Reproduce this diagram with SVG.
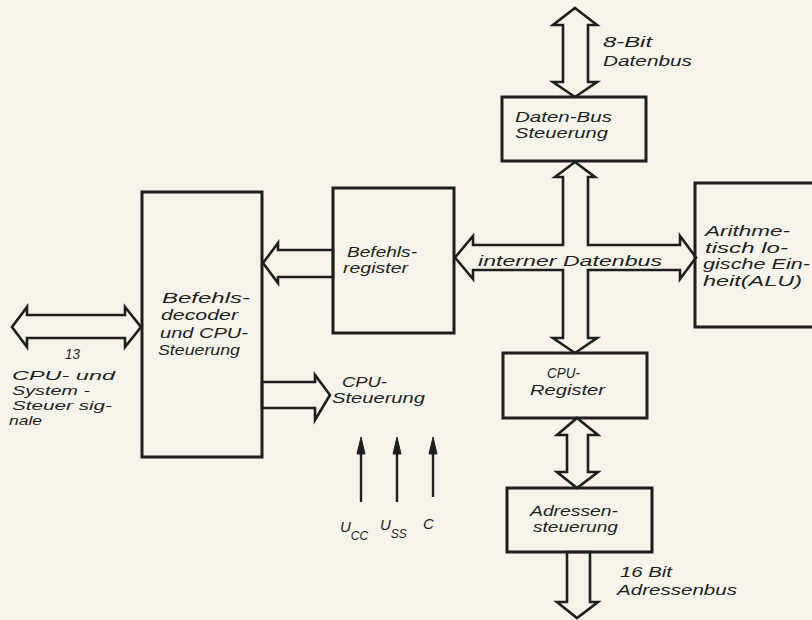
<svg xmlns="http://www.w3.org/2000/svg" width="812" height="620" viewBox="0 0 812 620">
<style>
.bg{fill:#f6f4ea}
.box{fill:none;stroke:#1e1e1e;stroke-width:3}
.bus{fill:#f6f4ea;stroke:#1e1e1e;stroke-width:2.6;stroke-linejoin:miter}
.sig{stroke:#1e1e1e;stroke-width:2.4;fill:none}
.head{fill:#1e1e1e;stroke:#1e1e1e;stroke-width:1}
text{font-family:"Liberation Sans","DejaVu Sans",sans-serif;font-style:italic;font-size:15px;fill:#1e1e1e}
.sm{font-size:13px}
.sub{font-size:12px}
</style>
<rect class="bg" x="0" y="0" width="812" height="620"/>

<g id="connectors">
<path id="bus-8bit" class="bus" d="M575,8 L597,25 L588,25 L588,82 L597,82 L575,97 L553,82 L563,82 L563,25 L553,25 Z"/>
<path id="bus-intern" class="bus" d="M575,162 L595,177 L588,177 L588,245 L680,245 L680,236 L696,257.5 L680,279 L680,270 L588,270 L588,338 L597,338 L575,353 L553,338 L563,338 L563,270 L473,270 L473,279 L455,257.5 L473,236 L473,245 L563,245 L563,177 L555,177 Z"/>
<path id="bus-befehl" class="bus" d="M333,250 L278,250 L278,243 L263,263 L278,283 L278,277 L333,277 Z"/>
<path id="bus-cpusteuer" class="bus" d="M262,382 L315,382 L315,375 L330,395 L315,420 L315,408 L262,408 Z"/>
<path id="bus-13" class="bus" d="M12,327 L27,307 L27,315 L125,315 L125,307 L141,327 L125,347 L125,338 L27,338 L27,347 Z"/>
<path id="bus-reg-adr" class="bus" d="M577,418 L598,435 L588,435 L588,472 L598,472 L577,488 L557,472 L567,472 L567,435 L557,435 Z"/>
<path id="bus-16bit" class="bus" d="M567,552 L590,552 L590,602 L598,602 L577,618 L557,602 L567,602 Z"/>
<line class="sig" x1="361" y1="502" x2="361" y2="450"/>
<polygon class="head" points="361,437 365,454 357,454"/>
<line class="sig" x1="397" y1="502" x2="397" y2="450"/>
<polygon class="head" points="397,437 401,454 393,454"/>
<line class="sig" x1="433" y1="497" x2="433" y2="450"/>
<polygon class="head" points="433,437 437,454 429,454"/>
</g>

<g id="daten-bus-steuerung">
<rect class="box" x="502" y="97" width="144" height="64"/>
<text x="515" y="122" textLength="97" lengthAdjust="spacingAndGlyphs">Daten-Bus</text>
<text x="515" y="138" textLength="93" lengthAdjust="spacingAndGlyphs">Steuerung</text>
</g>

<g id="befehlsregister">
<rect class="box" x="333" y="188" width="121" height="145"/>
<text x="347" y="257" textLength="70" lengthAdjust="spacingAndGlyphs">Befehls-</text>
<text x="343" y="273" textLength="65" lengthAdjust="spacingAndGlyphs">register</text>
</g>

<g id="befehlsdecoder">
<rect class="box" x="142" y="192" width="120" height="265"/>
<text x="162" y="303" textLength="88" lengthAdjust="spacingAndGlyphs">Befehls-</text>
<text x="161" y="320" textLength="77" lengthAdjust="spacingAndGlyphs">decoder</text>
<text x="160" y="338" textLength="88" lengthAdjust="spacingAndGlyphs">und CPU-</text>
<text x="158" y="355" textLength="82" lengthAdjust="spacingAndGlyphs">Steuerung</text>
</g>

<g id="alu">
<rect class="box" x="695" y="183" width="140" height="144"/>
<text x="705" y="236" textLength="85" lengthAdjust="spacingAndGlyphs">Arithme-</text>
<text x="705" y="253" textLength="83" lengthAdjust="spacingAndGlyphs">tisch lo-</text>
<text x="703" y="269" textLength="107" lengthAdjust="spacingAndGlyphs">gische Ein-</text>
<text x="703" y="286" textLength="99" lengthAdjust="spacingAndGlyphs">heit(ALU)</text>
</g>

<g id="cpu-register">
<rect class="box" x="503" y="353" width="144" height="65"/>
<text x="547" y="378" textLength="33" lengthAdjust="spacingAndGlyphs">CPU-</text>
<text x="530" y="395" textLength="75" lengthAdjust="spacingAndGlyphs">Register</text>
</g>

<g id="adressensteuerung">
<rect class="box" x="507" y="488" width="145" height="64"/>
<text x="530" y="516" textLength="88" lengthAdjust="spacingAndGlyphs">Adressen-</text>
<text x="533" y="532" textLength="85" lengthAdjust="spacingAndGlyphs">steuerung</text>
</g>

<g id="labels">
<text x="603" y="47" textLength="49" lengthAdjust="spacingAndGlyphs">8-Bit</text>
<text x="603" y="66" textLength="89" lengthAdjust="spacingAndGlyphs">Datenbus</text>
<text x="478" y="266" textLength="184" lengthAdjust="spacingAndGlyphs">interner Datenbus</text>
<text x="342" y="387" textLength="45" lengthAdjust="spacingAndGlyphs">CPU-</text>
<text x="332" y="403" textLength="93" lengthAdjust="spacingAndGlyphs">Steuerung</text>
<text x="65" y="359" textLength="15" lengthAdjust="spacingAndGlyphs">13</text>
<text class="sm" x="12" y="380" textLength="103" lengthAdjust="spacingAndGlyphs">CPU- und</text>
<text class="sm" x="12" y="395" textLength="78" lengthAdjust="spacingAndGlyphs">System -</text>
<text class="sm" x="12" y="410" textLength="100" lengthAdjust="spacingAndGlyphs">Steuer sig-</text>
<text class="sm" x="9" y="425" textLength="33" lengthAdjust="spacingAndGlyphs">nale</text>
<text x="340" y="532" font-size="17">U<tspan class="sub" dy="8">CC</tspan></text>
<text x="380" y="530" font-size="17">U<tspan class="sub" dy="8">SS</tspan></text>
<text x="423" y="529" font-size="17">C</text>
<text x="620" y="577" textLength="52" lengthAdjust="spacingAndGlyphs">16 Bit</text>
<text x="617" y="595" textLength="120" lengthAdjust="spacingAndGlyphs">Adressenbus</text>
</g>
</svg>
